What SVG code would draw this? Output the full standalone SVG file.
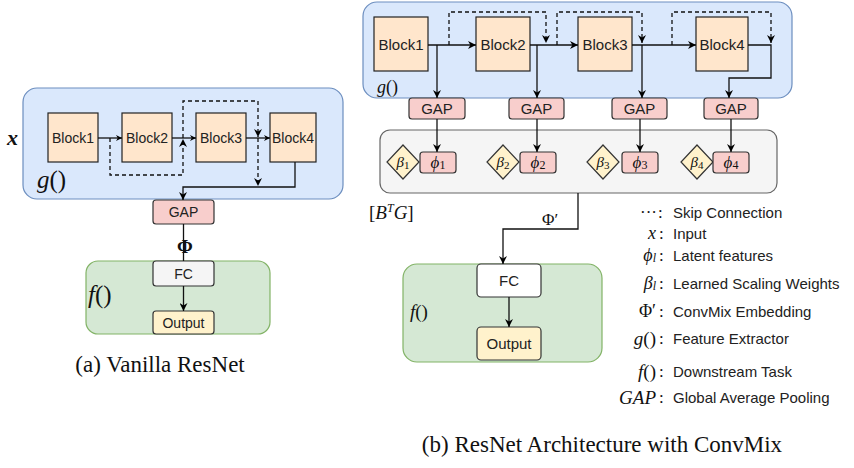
<svg xmlns="http://www.w3.org/2000/svg" width="854" height="468" viewBox="0 0 854 468">
<defs>
<marker id="arr" viewBox="0 0 10 10" refX="10" refY="5" markerWidth="8" markerHeight="8" markerUnits="userSpaceOnUse" orient="auto">
<path d="M0,0 L10,5 L0,10 L3,5 z" fill="#000"/>
</marker>
<marker id="arrs" viewBox="0 0 10 10" refX="10" refY="5" markerWidth="6" markerHeight="6" markerUnits="userSpaceOnUse" orient="auto">
<path d="M0,0 L10,5 L0,10 L3,5 z" fill="#000"/>
</marker>
<style>
.blue{fill:#dae8fc;stroke:#6c8ebf;stroke-width:1.2}
.green{fill:#d5e8d4;stroke:#82b366;stroke-width:1.2}
.gray{fill:#f5f5f5;stroke:#666;stroke-width:1.2}
.blk{fill:#ffe6cc;stroke:#222;stroke-width:1.2}
.gap{fill:#f8cecc;stroke:#333;stroke-width:1.2}
.fc{fill:#f5f5f5;stroke:#333;stroke-width:1.2}
.fcw{fill:#fff;stroke:#333;stroke-width:1.2}
.out{fill:#fff2cc;stroke:#333;stroke-width:1.2}
.sans{font-family:"Liberation Sans",Arial,sans-serif;fill:#222}
.math{font-family:"Liberation Serif","Times New Roman",serif;font-style:italic;fill:#111}
.rm{font-family:"Liberation Serif","Times New Roman",serif;fill:#111}
.up{font-style:normal}
.ln{fill:none;stroke:#111;stroke-width:1.3}
.ds{fill:none;stroke:#111;stroke-width:1.3;stroke-dasharray:4 3}
.c{text-anchor:middle;dominant-baseline:central}
.leg{font-family:"Liberation Sans",Arial,sans-serif;font-size:15px;fill:#222;dominant-baseline:central}
</style>
</defs>

<!-- Panel (a) -->
<g id="a-g-container"><rect class="blue" x="23" y="88" width="320" height="111" rx="14"/></g>
<g id="a-f-container"><rect class="green" x="86" y="261" width="184" height="73" rx="12"/></g>
<g id="a-block1"><rect class="blk" x="48" y="113" width="50" height="49"/><text class="sans c" x="73" y="138" font-size="14">Block1</text></g>
<g id="a-block2"><rect class="blk" x="122" y="113" width="50" height="49"/><text class="sans c" x="147" y="138" font-size="14">Block2</text></g>
<g id="a-block3"><rect class="blk" x="196" y="113" width="50" height="49"/><text class="sans c" x="221" y="138" font-size="14">Block3</text></g>
<g id="a-block4"><rect class="blk" x="270" y="113" width="46" height="49"/><text class="sans c" x="293" y="138" font-size="14">Block4</text></g>
<g id="a-gap"><rect class="gap" x="153" y="200" width="61" height="24" rx="3"/><text class="sans c" x="183.5" y="212" font-size="14">GAP</text></g>
<g id="a-fc"><rect class="fc" x="153" y="261" width="61" height="25" rx="3"/><text class="sans c" x="183.5" y="273.5" font-size="14">FC</text></g>
<g id="a-output"><rect class="out" x="153" y="311" width="61" height="23" rx="3"/><text class="sans c" x="183.5" y="322.5" font-size="14">Output</text></g>

<!-- Panel (b) -->
<g id="b-g-container"><rect class="blue" x="363" y="2" width="429" height="96" rx="14"/></g>
<g id="b-mix-container"><rect class="gray" x="380" y="130" width="397" height="63" rx="10"/></g>
<g id="b-f-container"><rect class="green" x="403" y="264" width="199" height="98" rx="14"/></g>
<g id="b-block1"><rect class="blk" x="374" y="17" width="54" height="54"/><text class="sans c" x="401" y="44" font-size="15">Block1</text></g>
<g id="b-block2"><rect class="blk" x="476" y="17" width="54" height="54"/><text class="sans c" x="503" y="44" font-size="15">Block2</text></g>
<g id="b-block3"><rect class="blk" x="578" y="17" width="54" height="54"/><text class="sans c" x="605" y="44" font-size="15">Block3</text></g>
<g id="b-block4"><rect class="blk" x="696" y="17" width="52" height="54"/><text class="sans c" x="722" y="44" font-size="15">Block4</text></g>
<g id="b-gap1"><rect class="gap" x="409" y="98" width="56" height="21" rx="3"/><text class="sans c" x="437" y="108.5" font-size="15">GAP</text></g>
<g id="b-gap2"><rect class="gap" x="509" y="98" width="55" height="21" rx="3"/><text class="sans c" x="536.5" y="108.5" font-size="15">GAP</text></g>
<g id="b-gap3"><rect class="gap" x="612" y="98" width="55" height="21" rx="3"/><text class="sans c" x="639.5" y="108.5" font-size="15">GAP</text></g>
<g id="b-gap4"><rect class="gap" x="704" y="98" width="54" height="21" rx="3"/><text class="sans c" x="731" y="108.5" font-size="15">GAP</text></g>
<g id="b-beta1"><path class="out" d="M403,145 L419,162 L403,179 L387,162 z"/><text class="math c" x="403" y="162" font-size="15">β<tspan class="up" font-size="11" dy="3">1</tspan></text></g>
<g id="b-phi1"><rect class="gap" x="420" y="152" width="36" height="21" rx="3"/><text class="math c" x="438" y="162" font-size="17">ϕ<tspan class="up" font-size="12" dy="3">1</tspan></text></g>
<g id="b-beta2"><path class="out" d="M503,145 L519,162 L503,179 L487,162 z"/><text class="math c" x="503" y="162" font-size="15">β<tspan class="up" font-size="11" dy="3">2</tspan></text></g>
<g id="b-phi2"><rect class="gap" x="520" y="152" width="36" height="21" rx="3"/><text class="math c" x="538" y="162" font-size="17">ϕ<tspan class="up" font-size="12" dy="3">2</tspan></text></g>
<g id="b-beta3"><path class="out" d="M603,145 L619,162 L603,179 L587,162 z"/><text class="math c" x="603" y="162" font-size="15">β<tspan class="up" font-size="11" dy="3">3</tspan></text></g>
<g id="b-phi3"><rect class="gap" x="622" y="152" width="36" height="21" rx="3"/><text class="math c" x="640" y="162" font-size="17">ϕ<tspan class="up" font-size="12" dy="3">3</tspan></text></g>
<g id="b-beta4"><path class="out" d="M697,145 L713,162 L697,179 L681,162 z"/><text class="math c" x="697" y="162" font-size="15">β<tspan class="up" font-size="11" dy="3">4</tspan></text></g>
<g id="b-phi4"><rect class="gap" x="713" y="152" width="36" height="21" rx="3"/><text class="math c" x="731" y="162" font-size="17">ϕ<tspan class="up" font-size="12" dy="3">4</tspan></text></g>
<g id="b-fc"><rect class="fcw" x="477" y="264" width="64" height="33" rx="4"/><text class="sans c" x="509" y="280.5" font-size="15">FC</text></g>
<g id="b-output"><rect class="out" x="477" y="327" width="64" height="33" rx="4"/><text class="sans c" x="509" y="343.5" font-size="15">Output</text></g>

<!-- Connectors -->
<g id="connectors">
<path class="ln" d="M98,138 H122" marker-end="url(#arrs)"/>
<path class="ln" d="M172,138 H196" marker-end="url(#arrs)"/>
<path class="ln" d="M246,138 H270" marker-end="url(#arrs)"/>
<path class="ds" d="M110,138 V175 H183 V139" marker-end="url(#arr)"/>
<path class="ds" d="M183,138 V101 H258 V137" marker-end="url(#arr)"/>
<path class="ds" d="M258,138 V186" marker-end="url(#arr)"/>
<path class="ln" d="M295,162 V187 H183 V200" marker-end="url(#arr)"/>
<path class="ln" d="M183.5,224 V261"/>
<path class="ln" d="M183.5,286 V311" marker-end="url(#arr)"/>

<path class="ln" d="M428,45 H476" marker-end="url(#arr)"/>
<path class="ln" d="M530,45 H578" marker-end="url(#arr)"/>
<path class="ln" d="M632,45 H696" marker-end="url(#arr)"/>
<path class="ln" d="M748,45 H771 V78 H729 V98" marker-end="url(#arr)"/>
<path class="ln" d="M437,45 V98" marker-end="url(#arr)"/>
<path class="ln" d="M537,45 V98" marker-end="url(#arr)"/>
<path class="ln" d="M642,45 V98" marker-end="url(#arr)"/>
<path class="ds" d="M449,45 V12 H546 V43" marker-end="url(#arr)"/>
<path class="ds" d="M557,45 V12 H642 V43" marker-end="url(#arr)"/>
<path class="ds" d="M672,45 V12 H771 V43" marker-end="url(#arr)"/>
<path class="ln" d="M437,119 V152" marker-end="url(#arr)"/>
<path class="ln" d="M537,119 V152" marker-end="url(#arr)"/>
<path class="ln" d="M640,119 V152" marker-end="url(#arr)"/>
<path class="ln" d="M731,119 V152" marker-end="url(#arr)"/>
<path class="ln" d="M578,193 V229 H503 V264" marker-end="url(#arr)"/>
<path class="ln" d="M509,297 V327" marker-end="url(#arr)"/>
</g>

<!-- Labels -->
<g id="labels">
<text class="math" x="7" y="145" font-size="22" font-weight="bold">x</text>
<text class="math" x="37" y="188" font-size="25">g<tspan class="up">()</tspan></text>
<text class="rm" x="185" y="253" font-size="19" font-weight="bold" text-anchor="middle">Φ</text>
<text class="math" x="88" y="303" font-size="25">f<tspan class="up">()</tspan></text>
<text class="rm" x="160" y="372" font-size="23" text-anchor="middle">(a) Vanilla ResNet</text>

<text class="math" x="377" y="93" font-size="18">g<tspan class="up">()</tspan></text>
<text class="math" x="410" y="318" font-size="19">f<tspan class="up">()</tspan></text>
<text class="math" x="369" y="219" font-size="19"><tspan class="up">[</tspan>B<tspan font-size="12" dy="-7">T</tspan><tspan dy="7">G</tspan><tspan class="up">]</tspan></text>
<text class="rm" x="542" y="225" font-size="17">Φ′</text>
<text class="rm" x="602" y="452" font-size="23" text-anchor="middle">(b) ResNet Architecture with ConvMix</text>
</g>

<!-- Legend -->
<g id="legend">
<text class="rm" x="657" y="212" font-size="17" text-anchor="end" dominant-baseline="central">···</text>
<text class="rm" x="658" y="212" font-size="17" dominant-baseline="central">:</text>
<text class="leg" x="673" y="212">Skip Connection</text>

<text class="math" x="656" y="233" font-size="18" text-anchor="end" dominant-baseline="central">x</text>
<text class="rm" x="659" y="233" font-size="17" dominant-baseline="central">:</text>
<text class="leg" x="673" y="233">Input</text>

<text class="math" x="656" y="255" font-size="18" text-anchor="end" dominant-baseline="central">ϕ<tspan font-size="12" dy="3">l</tspan></text>
<text class="rm" x="659" y="255" font-size="17" dominant-baseline="central">:</text>
<text class="leg" x="673" y="255">Latent features</text>

<text class="math" x="656" y="283" font-size="18" text-anchor="end" dominant-baseline="central">β<tspan font-size="12" dy="3">l</tspan></text>
<text class="rm" x="659" y="283" font-size="17" dominant-baseline="central">:</text>
<text class="leg" x="673" y="283">Learned Scaling Weights</text>

<text class="rm" x="656" y="311" font-size="18" text-anchor="end" dominant-baseline="central">Φ′</text>
<text class="rm" x="659" y="311" font-size="17" dominant-baseline="central">:</text>
<text class="leg" x="673" y="311">ConvMix Embedding</text>

<text class="math" x="656" y="338" font-size="19" text-anchor="end" dominant-baseline="central">g<tspan class="up">()</tspan></text>
<text class="rm" x="659" y="338" font-size="17" dominant-baseline="central">:</text>
<text class="leg" x="673" y="338">Feature Extractor</text>

<text class="math" x="656" y="371" font-size="19" text-anchor="end" dominant-baseline="central">f<tspan class="up">()</tspan></text>
<text class="rm" x="659" y="371" font-size="17" dominant-baseline="central">:</text>
<text class="leg" x="673" y="371">Downstream Task</text>

<text class="math" x="656" y="397" font-size="19" text-anchor="end" dominant-baseline="central">GAP</text>
<text class="rm" x="659" y="397" font-size="17" dominant-baseline="central">:</text>
<text class="leg" x="673" y="397">Global Average Pooling</text>
</g>
</svg>
